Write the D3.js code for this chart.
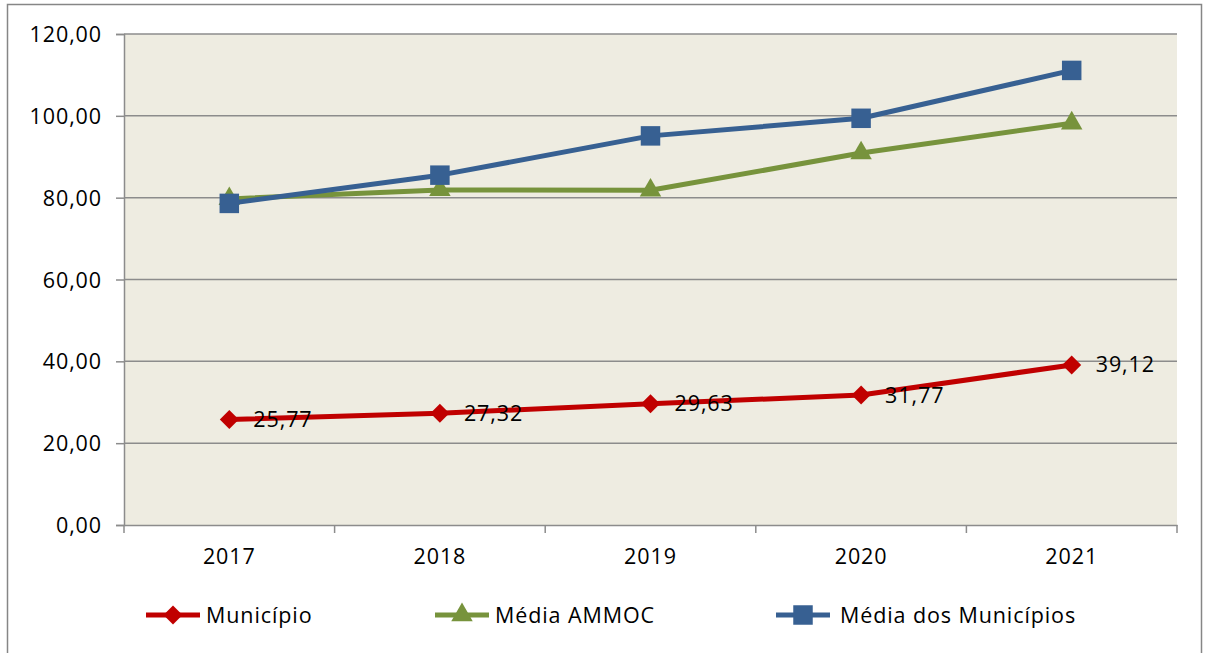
<!DOCTYPE html>
<html>
<head>
<meta charset="utf-8">
<script src="https://cdn.jsdelivr.net/npm/d3@7"></script>
<style>
  body { margin: 0; background: #fff; }
  text { font-family: "Open Sans", "Noto Sans", sans-serif; fill: #000; letter-spacing: 0.9px; }
</style>
</head>
<body>
<div id="chart"></div>
<script>
var years = ["2017", "2018", "2019", "2020", "2021"];
var municipio = [25.77, 27.32, 29.63, 31.77, 39.12];
var mediaAmmoc = [79.7, 81.9, 81.8, 90.9, 98.2];
var mediaMunicipios = [78.6, 85.5, 95.1, 99.4, 111.1];
var yTicks = [0, 20, 40, 60, 80, 100, 120];

var width = 1208, height = 653;
var plot = {left: 124, right: 1177, top: 34, bottom: 525};
var fontSize = "21.5px";

var svg = d3.select("#chart").append("svg")
    .attr("width", width)
    .attr("height", height);

// outer chart frame
svg.append("rect")
    .attr("x", 7.5).attr("y", 4.5)
    .attr("width", 1194).attr("height", 660)
    .attr("fill", "#fff")
    .attr("stroke", "#868686")
    .attr("stroke-width", 1.5);

var x = d3.scaleBand().domain(years).range([plot.left, plot.right]);
var y = d3.scaleLinear().domain([0, 120]).range([plot.bottom, plot.top]);
var cx = function(d, i) { return x(years[i]) + x.bandwidth() / 2; };

svg.append("rect")
    .attr("x", plot.left).attr("y", plot.top)
    .attr("width", plot.right - plot.left)
    .attr("height", plot.bottom - plot.top)
    .attr("fill", "#EEECE1");

// gridlines
svg.append("g").selectAll("line")
    .data(yTicks.filter(function(t) { return t > 0; }))
    .enter().append("line")
    .attr("x1", plot.left).attr("x2", plot.right)
    .attr("y1", function(d) { return y(d); })
    .attr("y2", function(d) { return y(d); })
    .attr("stroke", "#8c8c8c")
    .attr("stroke-width", 1.5);

// y axis
var yAxis = svg.append("g")
    .attr("transform", "translate(" + plot.left + ",0)")
    .call(d3.axisLeft(y).tickValues(yTicks).tickSize(8).tickPadding(14)
      .tickFormat(function(d) { return d3.format(".2f")(d).replace(".", ","); }));
yAxis.selectAll("text").style("font-size", fontSize).attr("dy", "0.35em");

// x axis
var xAxis = svg.append("g")
    .attr("transform", "translate(0," + plot.bottom + ")")
    .call(d3.axisBottom(x).tickSize(0).tickPadding(24));
xAxis.selectAll("text").style("font-size", fontSize);
// category boundary ticks
xAxis.selectAll(".bound")
    .data(years.concat(["end"]))
    .enter().append("line")
    .attr("x1", function(d, i) { return plot.left + i * x.bandwidth(); })
    .attr("x2", function(d, i) { return plot.left + i * x.bandwidth(); })
    .attr("y1", 0).attr("y2", 8);
svg.selectAll("g line").attr("stroke", "#8c8c8c").attr("stroke-width", 1.5);
svg.selectAll(".domain").attr("stroke", "#8c8c8c").attr("stroke-width", 1.5);

var line = d3.line()
    .x(cx)
    .y(function(d) { return y(d); });

var series = [
  {name: "Município", values: municipio, color: "#C00000", marker: d3.symbolSquare, size: 180, rot: 45},
  {name: "Média AMMOC", values: mediaAmmoc, color: "#77933C", marker: d3.symbolTriangle, size: 200, rot: 0},
  {name: "Média dos Municípios", values: mediaMunicipios, color: "#376092", marker: d3.symbolSquare, size: 380, rot: 0}
];

series.forEach(function(s) {
  svg.append("path")
    .attr("d", line(s.values))
    .attr("fill", "none")
    .attr("stroke", s.color)
    .attr("stroke-width", 5)
    .attr("stroke-linejoin", "round");
  svg.append("g").selectAll("path")
    .data(s.values)
    .enter().append("path")
    .attr("d", d3.symbol().type(s.marker).size(s.size))
    .attr("transform", function(d, i) {
      return "translate(" + cx(d, i) + "," + y(d) + ") rotate(" + s.rot + ")";
    })
    .attr("fill", s.color);
});

// data labels for Município
svg.append("g").selectAll("text")
    .data(municipio)
    .enter().append("text")
    .attr("x", function(d, i) { return cx(d, i) + 24; })
    .attr("y", function(d) { return y(d); })
    .attr("dy", "0.35em")
    .style("font-size", fontSize)
    .text(function(d) { return d3.format(".2f")(d).replace(".", ","); });

// legend
var legendX = [146, 435, 776];
var legend = svg.append("g").selectAll("g")
    .data(series)
    .enter().append("g")
    .attr("transform", function(d, i) { return "translate(" + legendX[i] + ",615)"; });
legend.append("line")
    .attr("x1", 0).attr("x2", 54)
    .attr("stroke", function(d) { return d.color; })
    .attr("stroke-width", 5);
legend.append("path")
    .attr("d", function(d) { return d3.symbol().type(d.marker).size(d.size)(); })
    .attr("transform", function(d) { return "translate(27,0) rotate(" + d.rot + ")"; })
    .attr("fill", function(d) { return d.color; });
legend.append("text")
    .attr("x", function(d, i) { return i === 2 ? 64 : 60; })
    .attr("dy", "0.35em")
    .style("font-size", fontSize)
    .text(function(d) { return d.name; });
</script>
</body>
</html>
